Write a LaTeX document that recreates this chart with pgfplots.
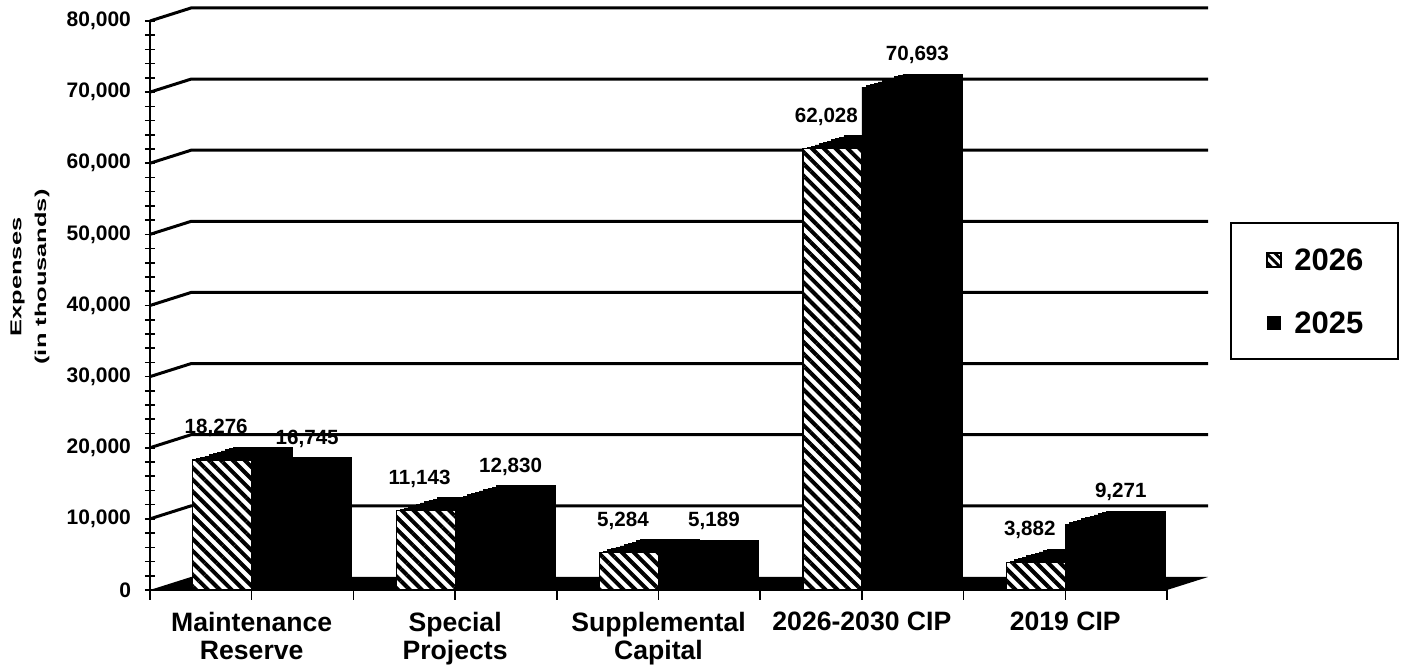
\documentclass[border=0pt]{standalone}
\usepackage{fontspec}
\setmainfont{Liberation Sans}
\usepackage{pgfplots}
\pgfplotsset{compat=1.18}
\usepackage{pgfplotstable}
\usetikzlibrary{patterns.meta}

\pgfplotstableread{
x a b
0 18276 16745
1 11143 12830
2 5284 5189
3 62028 70693
4 3882 9271
}\data

\pgfplotsset{
  /pgf/number format/assume math mode=true,
  /pgf/number format/1000 sep={,},
  hb/.style={ybar, forget plot, fill=black, draw=black, bar width=29.5pt},
}

\begin{document}
\begin{tikzpicture}
\useasboundingbox (-75pt,-38.5pt) rectangle (626.5pt,295pt);
\begin{axis}[at={(0,0)}, anchor=south west, scale only axis,
  width=508.5pt, height=284.5pt, xmin=-0.5, xmax=4.5, ymin=0, ymax=80000,
  clip=false,
  axis x line*=bottom, axis y line*=left,
  axis line style={line width=1pt,-},
  ytick={0,10000,20000,30000,40000,50000,60000,70000,80000}, minor y tick num=4, scaled y ticks=false,
  xtick={0,1,2,3,4}, minor xtick={-0.5,0.5,1.5,2.5,3.5,4.5},
  xticklabels={Maintenance\\Reserve, Special\\Projects, Supplemental\\Capital, 2026-2030 CIP, 2019 CIP},
  xticklabel style={align=center, font=\fontsize{13.3}{14}\selectfont\bfseries, yshift=-5pt},
  yticklabel style={font=\fontsize{10.5}{12}\selectfont\bfseries, xshift=-3.5pt},
  tick align=center, major tick length=5pt, minor tick length=5pt,
  tick style={line width=0.8pt, black},
  x tick style={yshift=-2.5pt},
]
% back wall grid lines and side connectors
\pgfplotsinvokeforeach{10,20,30,40,50,60,70,80}{
  \draw[line width=1.5pt] (axis cs:-0.5,#1000) -- ++(20.5pt,6.5pt) -- ([xshift=20.5pt,yshift=6.5pt]axis cs:4.5,#1000);}
% floor
\fill[black] (axis cs:-0.5,0) -- (axis cs:4.5,0) -- ([xshift=20.5pt,yshift=6.5pt]axis cs:4.5,0) -- ([xshift=20.5pt,yshift=6.5pt]axis cs:-0.5,0) -- cycle;
% 2026 depth
\addplot[hb, bar shift=5.75pt, yshift=6.5pt] table[x=x,y=a]{\data};
\addplot[hb, bar shift=3.7pt, yshift=5.85pt] table[x=x,y=a]{\data};
\addplot[hb, bar shift=1.65pt, yshift=5.2pt] table[x=x,y=a]{\data};
\addplot[hb, bar shift=-0.4pt, yshift=4.55pt] table[x=x,y=a]{\data};
\addplot[hb, bar shift=-2.45pt, yshift=3.9pt] table[x=x,y=a]{\data};
\addplot[hb, bar shift=-4.5pt, yshift=3.25pt] table[x=x,y=a]{\data};
\addplot[hb, bar shift=-6.55pt, yshift=2.6pt] table[x=x,y=a]{\data};
\addplot[hb, bar shift=-8.6pt, yshift=1.95pt] table[x=x,y=a]{\data};
\addplot[hb, bar shift=-10.65pt, yshift=1.3pt] table[x=x,y=a]{\data};
\addplot[hb, bar shift=-12.7pt, yshift=0.65pt] table[x=x,y=a]{\data};
% 2026 front
\addplot[ybar, bar width=29.5pt, bar shift=-14.75pt, draw=black, line width=0.6pt, fill=white,
  postaction={pattern={Lines[angle=-45,distance=4.2pt,line width=2pt]}, pattern color=black}]
  table[x=x,y=a]{\data};
% 2025 depth
\addplot[hb, bar shift=35.25pt, yshift=6.5pt] table[x=x,y=b]{\data};
\addplot[hb, bar shift=33.2pt, yshift=5.85pt] table[x=x,y=b]{\data};
\addplot[hb, bar shift=31.15pt, yshift=5.2pt] table[x=x,y=b]{\data};
\addplot[hb, bar shift=29.1pt, yshift=4.55pt] table[x=x,y=b]{\data};
\addplot[hb, bar shift=27.05pt, yshift=3.9pt] table[x=x,y=b]{\data};
\addplot[hb, bar shift=25pt, yshift=3.25pt] table[x=x,y=b]{\data};
\addplot[hb, bar shift=22.95pt, yshift=2.6pt] table[x=x,y=b]{\data};
\addplot[hb, bar shift=20.9pt, yshift=1.95pt] table[x=x,y=b]{\data};
\addplot[hb, bar shift=18.85pt, yshift=1.3pt] table[x=x,y=b]{\data};
\addplot[hb, bar shift=16.8pt, yshift=0.65pt] table[x=x,y=b]{\data};
% 2025 front
\addplot[hb, bar shift=14.75pt] table[x=x,y=b]{\data};
% labels
\addplot[ybar, forget plot, bar width=29.5pt, bar shift=-14.75pt, draw=none, fill=none,
  nodes near coords, nodes near coords style={font=\fontsize{10.3}{12}\selectfont\bfseries, text=black, anchor=center, yshift=16pt, xshift=-17.75pt}]
  table[x=x,y=a]{\data};
\addplot[ybar, forget plot, bar width=29.5pt, bar shift=14.75pt, draw=none, fill=none,
  nodes near coords, nodes near coords style={font=\fontsize{10.3}{12}\selectfont\bfseries, text=black, anchor=center, yshift=16pt, xshift=27.75pt}]
  table[x=x,y=b]{\data};
\end{axis}
% y label
\node[rotate=90, yscale=0.62, align=center, font=\fontsize{12.7}{20}\selectfont\bfseries] at (-60pt,156.5pt) {Expenses\\(in thousands)};
% legend
\draw[line width=0.6pt] (540.5pt,115.5pt) rectangle (624pt,183.5pt);
\draw[line width=0.8pt, fill=white, postaction={pattern={Lines[angle=-45,distance=3pt,line width=1.4pt]}, pattern color=black}] (558.5pt,161.5pt) rectangle (565.5pt,168.5pt);
\fill[black] (558.5pt,130pt) rectangle (565.5pt,137pt);
\node[anchor=west, inner sep=0pt, font=\fontsize{15.5}{18}\selectfont\bfseries] at (572pt,165pt) {2026};
\node[anchor=west, inner sep=0pt, font=\fontsize{15.5}{18}\selectfont\bfseries] at (572pt,133.5pt) {2025};
\end{tikzpicture}
\end{document}
